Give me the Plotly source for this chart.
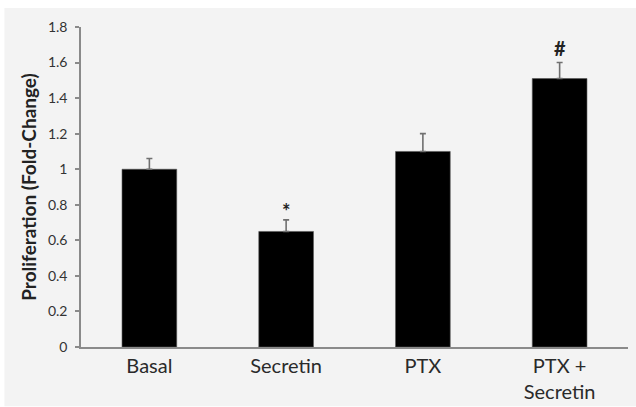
import plotly.graph_objects as go

# Proliferation fold-change per treatment group
categories = ["Basal", "Secretin", "PTX", "PTX +<br>Secretin"]
values = [1.00, 0.65, 1.10, 1.51]
errors = [0.06, 0.065, 0.10, 0.09]
markers = ["", "*", "", "#"]
marker_shift = [0, -5, 0, 1]
y_ticks = [0, 0.2, 0.4, 0.6, 0.8, 1.0, 1.2, 1.4, 1.6, 1.8]
y_tick_labels = ["0", "0.2", "0.4", "0.6", "0.8", "1", "1.2", "1.4", "1.6", "1.8"]

FONT = "Lato, Open Sans, sans-serif"
TEXT = "#333333"
AXIS = "#8a8a8a"

fig = go.Figure()
fig.add_trace(go.Bar(
    x=categories,
    y=values,
    marker=dict(color="black", line=dict(color="#555555", width=0.6)),
    error_y=dict(type="data", array=errors, arrayminus=[0] * len(errors),
                 symmetric=False, color="#707070", thickness=1.6, width=3),
    showlegend=False,
))

# Significance markers above the error bars
for cat, v, e, m, s in zip(categories, values, errors, markers, marker_shift):
    if m:
        fig.add_annotation(x=cat, y=v + e, text="<b>" + m + "</b>", showarrow=False,
                           yanchor="bottom", yshift=s,
                           font=dict(family=FONT, size=20, color="#222222"))

# Grey panel behind the chart
fig.add_shape(type="rect", xref="paper", yref="paper",
              x0=-0.14, x1=1.1, y0=-0.185, y1=1.059,
              fillcolor="#f3f3f3", line=dict(width=0), layer="below")

fig.update_layout(
    width=636, height=407,
    margin=dict(l=81, r=8, t=27, b=60, autoexpand=False),
    paper_bgcolor="white",
    plot_bgcolor="rgba(0,0,0,0)",
    bargap=0.6,
    font=dict(family=FONT, color=TEXT),
)
fig.update_xaxes(
    showline=True, linecolor=AXIS, linewidth=1.5,
    ticks="", showgrid=False, automargin=False,
    tickfont=dict(size=20, color="#2a2a2a"),
)
fig.update_yaxes(
    range=[0, 1.8], tickvals=y_ticks, ticktext=y_tick_labels,
    showline=True, linecolor=AXIS, linewidth=1.5,
    ticks="outside", ticklen=4, tickcolor=AXIS, tickwidth=1.5,
    showgrid=False, zeroline=False, automargin=False,
    tickfont=dict(size=14, color=TEXT),
    ticklabelstandoff=5,
    title=dict(text="<b>Proliferation (Fold-Change)</b>",
               font=dict(size=19, color="#222222"), standoff=6),
)

fig.write_html("out.html")
